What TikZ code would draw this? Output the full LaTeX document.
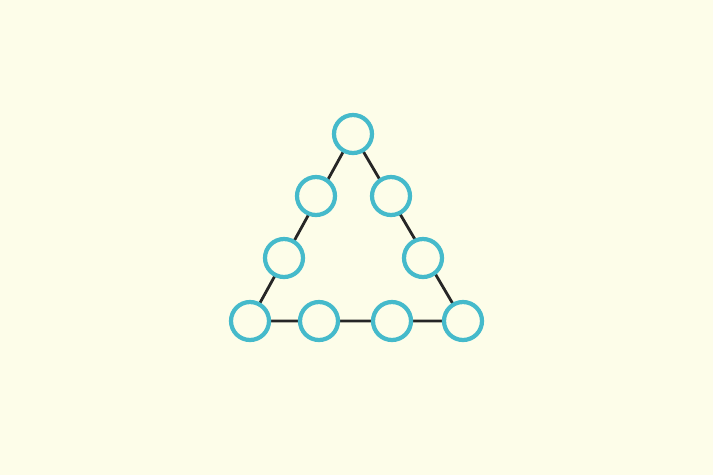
\documentclass[tikz,border=0pt]{standalone}
\usepackage{tikz}
\usetikzlibrary{positioning}

\definecolor{paper}{HTML}{FDFDE9}
\definecolor{ring}{HTML}{45BACB}

\tikzset{
  spot/.style={circle, draw=ring, line width=1.2pt, fill=paper, minimum size=0.38cm, inner sep=0pt},
  edge line/.style={draw=black!85, line width=0.8pt}
}

\begin{document}
\begin{tikzpicture}
        \fill[paper] (0,0) rectangle (7.13,4.75);
        \useasboundingbox (0,0) rectangle (7.13,4.75);
        % corners
        \coordinate (top) at (3.53,3.41);
        \coordinate (bl) at (2.50,1.54);
        \coordinate (br) at (4.63,1.54);
        \draw[edge line] (top) -- (bl) -- (br) -- cycle;
        \node[spot] (apex) at (top) {};
        \node[spot] (left1) at (3.16,2.79) {};
        \node[spot] (left2) at (2.84,2.17) {};
        \node[spot] (corner left) at (bl) {};
        \node[spot] (right1) at (3.91,2.79) {};
        \node[spot] (right2) at (4.23,2.17) {};
        \node[spot] (corner right) at (br) {};
        \node[spot] (base1) at (3.19,1.54) {};
        \node[spot] (base2) at (3.92,1.54) {};
\end{tikzpicture}
\end{document}
